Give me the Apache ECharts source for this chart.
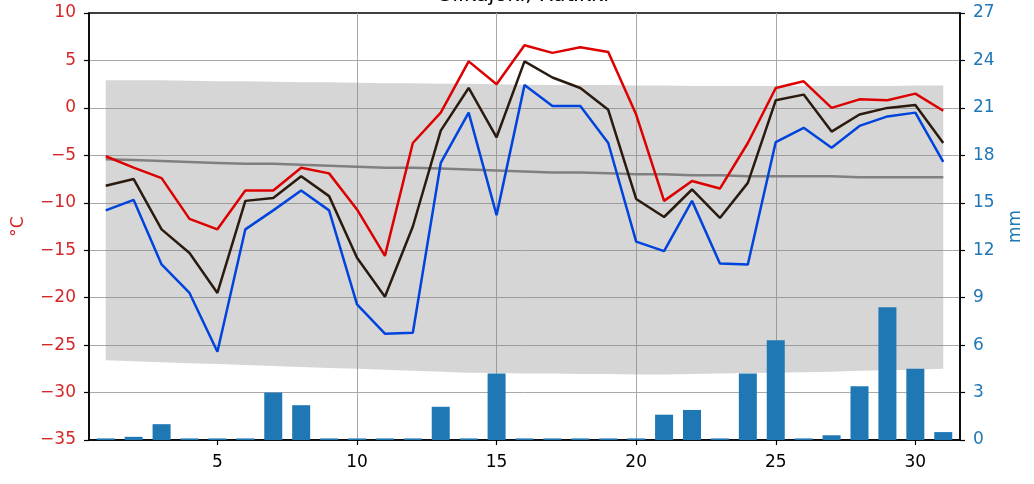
<!DOCTYPE html>
<html>
<head>
<meta charset="utf-8">
<script src="https://cdn.jsdelivr.net/npm/echarts@6/dist/echarts.min.js"></script>
<style>html,body{margin:0;padding:0;background:#fff}#c{width:1034px;height:484px}</style>
</head>
<body>
<div id="c"></div>
<script>
const days = [1,2,3,4,5,6,7,8,9,10,11,12,13,14,15,16,17,18,19,20,21,22,23,24,25,26,27,28,29,30,31];
const tMax = [-5.1,-6.3,-7.4,-11.7,-12.8,-8.7,-8.7,-6.3,-6.9,-10.7,-15.6,-3.7,-0.5,4.9,2.5,6.6,5.8,6.4,5.9,-0.7,-9.8,-7.7,-8.5,-3.7,2.1,2.8,0.0,0.9,0.8,1.5,-0.3];
const tMean = [-8.2,-7.5,-12.8,-15.3,-19.5,-9.8,-9.5,-7.2,-9.3,-15.8,-19.9,-12.5,-2.4,2.1,-3.1,4.9,3.2,2.1,-0.2,-9.6,-11.5,-8.6,-11.6,-7.9,0.8,1.4,-2.5,-0.7,0.0,0.3,-3.7];
const tMin = [-10.8,-9.7,-16.5,-19.5,-25.7,-12.8,-10.8,-8.7,-10.8,-20.7,-23.8,-23.7,-5.8,-0.5,-11.3,2.4,0.2,0.2,-3.7,-14.1,-15.1,-9.8,-16.4,-16.5,-3.6,-2.1,-4.2,-1.9,-0.9,-0.5,-5.7];
const precip = [0.1,0.2,1.0,0.1,0.1,0.1,3.0,2.2,0.1,0.1,0.1,0.1,2.1,0.1,4.2,0.1,0.1,0.1,0.1,0.1,1.6,1.9,0.1,4.2,6.3,0.1,0.3,3.4,8.4,4.5,0.5];
const climMean = [-5.4,-5.5,-5.6,-5.7,-5.8,-5.9,-5.9,-6.0,-6.1,-6.2,-6.3,-6.3,-6.4,-6.5,-6.6,-6.7,-6.8,-6.8,-6.9,-7.0,-7.0,-7.1,-7.1,-7.2,-7.2,-7.2,-7.2,-7.3,-7.3,-7.3,-7.3];
const climHigh = [2.9,2.9,2.9,2.85,2.8,2.8,2.75,2.7,2.7,2.65,2.6,2.6,2.55,2.55,2.5,2.45,2.4,2.4,2.4,2.35,2.35,2.3,2.3,2.3,2.3,2.3,2.3,2.3,2.3,2.35,2.35];
const climLow = [-26.6,-26.7,-26.8,-26.9,-27.0,-27.1,-27.2,-27.3,-27.4,-27.5,-27.6,-27.7,-27.8,-27.9,-27.95,-28.0,-28.0,-28.05,-28.05,-28.1,-28.1,-28.05,-28.0,-27.95,-27.9,-27.85,-27.8,-27.7,-27.65,-27.6,-27.5];
const xTicks = [5,10,15,20,25,30];
const title = 'Siikajoki, Ruukki';

const FONT = 'DejaVu Sans';
const pair = arr => days.map((d, i) => [d, arr[i]]);
const minus = v => String(v).replace('-', '\u2212');

const chart = echarts.init(document.getElementById('c'), null, {renderer: 'canvas'});
chart.setOption({
  animation: false,
  backgroundColor: '#ffffff',
  textStyle: {fontFamily: FONT},
  graphic: [{
    type: 'text', x: 524, y: -4,
    style: {text: title, font: '21px "DejaVu Sans"', fill: '#000', textAlign: 'center', textVerticalAlign: 'middle'}
  }],
  grid: {left: 89, right: 74, top: 13, bottom: 44, containLabel: false, outerBoundsMode: 'none',
         show: true, borderColor: '#000', borderWidth: 1.5, backgroundColor: 'transparent'},
  xAxis: {
    type: 'value', min: 0.4, max: 31.6, minInterval: 5, maxInterval: 5,
    axisLine: {show: true, onZero: false, lineStyle: {color: '#000', width: 1.5}},
    axisTick: {show: true, length: 5, customValues: xTicks, lineStyle: {color: '#000', width: 1.2}},
    axisLabel: {customValues: xTicks, color: '#000', fontSize: 17, fontFamily: FONT, margin: 14,
                formatter: v => (v % 5 === 0 ? String(v) : '')},
    splitLine: {show: true, showMinLine: false, showMaxLine: false, lineStyle: {color: '#a9a9a9', width: 1}}
  },
  yAxis: [{
    type: 'value', min: -35, max: 10, interval: 5, position: 'left',
    name: '°C', nameLocation: 'middle', nameRotate: 90, nameGap: 62,
    nameTextStyle: {color: '#d62728', fontSize: 17, fontFamily: FONT},
    axisLine: {show: true, onZero: false, lineStyle: {color: '#000', width: 1.5}},
    axisTick: {show: true, length: 5, lineStyle: {color: '#000', width: 1.2}},
    axisLabel: {color: '#d62728', fontSize: 17, fontFamily: FONT, margin: 13, formatter: minus},
    splitLine: {show: true, showMinLine: false, showMaxLine: false, lineStyle: {color: '#a9a9a9', width: 1}}
  }, {
    type: 'value', min: 0, max: 27, interval: 3, position: 'right',
    name: 'mm', nameLocation: 'middle', nameRotate: 90, nameGap: 47,
    nameTextStyle: {color: '#1f77b4', fontSize: 17, fontFamily: FONT},
    axisLine: {show: true, onZero: false, lineStyle: {color: '#000', width: 1.5}},
    axisTick: {show: true, length: 5, lineStyle: {color: '#000', width: 1.2}},
    axisLabel: {color: '#1f77b4', fontSize: 17, fontFamily: FONT, margin: 13},
    splitLine: {show: false}
  }],
  series: [{
    type: 'custom', name: 'band', xAxisIndex: 0, yAxisIndex: 0, z: 1, silent: true,
    data: days.map((d, i) => [d, climHigh[i], climLow[i]]),
    encode: {x: 0, y: [1, 2]},
    renderItem: (params, api) => {
      if (params.dataIndex !== 0) return null;
      const pts = [];
      for (let i = 0; i < days.length; i++) pts.push(api.coord([days[i], climHigh[i]]));
      for (let i = days.length - 1; i >= 0; i--) pts.push(api.coord([days[i], climLow[i]]));
      return {type: 'polygon', shape: {points: pts}, style: {fill: 'rgba(130,130,130,0.33)', stroke: 'none'}};
    }
  }, {
    type: 'bar', name: 'precip', xAxisIndex: 0, yAxisIndex: 1, z: 2,
    data: pair(precip), barWidth: 18, itemStyle: {color: '#1f77b4'}
  }, {
    type: 'line', name: 'climMean', yAxisIndex: 0, z: 3, data: pair(climMean), symbol: 'none',
    lineStyle: {color: '#808080', width: 2.5}
  }, {
    type: 'line', name: 'min', yAxisIndex: 0, z: 4, data: pair(tMin), symbol: 'none',
    lineStyle: {color: '#0044dd', width: 2.5}
  }, {
    type: 'line', name: 'mean', yAxisIndex: 0, z: 4, data: pair(tMean), symbol: 'none',
    lineStyle: {color: '#2b1a0e', width: 2.5}
  }, {
    type: 'line', name: 'max', yAxisIndex: 0, z: 4, data: pair(tMax), symbol: 'none',
    lineStyle: {color: '#dd0000', width: 2.5}
  }]
});
</script>
</body>
</html>
